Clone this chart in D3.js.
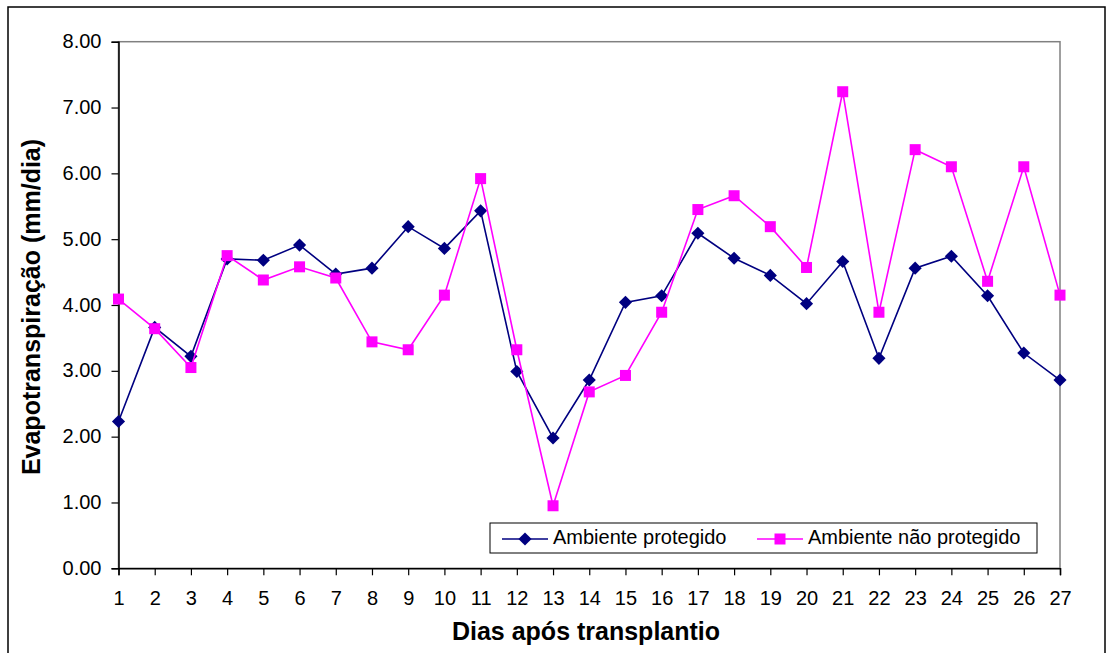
<!DOCTYPE html>
<html lang="pt">
  <head>
    <meta charset="utf-8">
    <title>Evapotranspiração</title>
    <script type="text/javascript" src="https://d3js.org/d3.v7.min.js"></script>
    <style>
    body { margin:0; background-color:#ffffff; }
    text { font-family:"Liberation Sans", Arial, sans-serif; fill:#000000; }
    </style>
  </head>
  <body>
    <div id="chart"></div>
    <script type="text/javascript">
// dados
const dias = d3.range(1, 28);
const protegido = [2.23, 3.66, 3.22, 4.70, 4.68, 4.91, 4.47, 4.56, 5.19, 4.86, 5.43, 2.99, 1.98, 2.86,
  4.04, 4.14, 5.09, 4.71, 4.45, 4.02, 4.66, 3.19, 4.56, 4.74, 4.14, 3.27, 2.86];
const naoProtegido = [4.09, 3.64, 3.05, 4.75, 4.38, 4.58, 4.41, 3.44, 3.32, 4.15, 5.92, 3.32, 0.95, 2.68,
  2.93, 3.89, 5.45, 5.66, 5.19, 4.57, 7.24, 3.89, 6.36, 6.10, 4.36, 6.10, 4.15];
const yTicks = [0, 1, 2, 3, 4, 5, 6, 7, 8];
const nomes = ["Ambiente protegido", "Ambiente não protegido"];

const width = 1108, height = 653;
const margin = {'top': 41.7, 'bottom': 84.7, 'left': 118.5, 'right': 48};
const svg = d3.select("#chart").append("svg").attr("width", width).attr("height", height);

const xScale = d3.scaleLinear().domain([1, 27]).range([margin.left, width - margin.right]);
const yScale = d3.scaleLinear().domain([0, 8]).range([height - margin.bottom, margin.top]);

// moldura externa
svg.append("rect").attr("x", 8).attr("y", 7).attr("width", 1097).attr("height", 660)
  .attr("fill", "none").attr("stroke", "#000000").attr("stroke-width", 1.5);

// área do gráfico (bordas cinza)
svg.append("rect")
  .attr("x", xScale(1)).attr("y", yScale(8))
  .attr("width", xScale(27) - xScale(1)).attr("height", yScale(0) - yScale(8))
  .attr("fill", "#ffffff").attr("stroke", "#808080").attr("stroke-width", 1.5);

// eixos
const yAxis = svg.append("g").attr("transform", `translate(${margin.left},0)`)
  .call(d3.axisLeft(yScale).tickValues(yTicks).tickFormat(d3.format(".2f")).tickSize(7).tickPadding(10));
const xAxis = svg.append("g").attr("transform", `translate(0,${yScale(0)})`)
  .call(d3.axisBottom(xScale).tickValues(dias).tickFormat(d3.format("d")).tickSize(7).tickPadding(16));
[yAxis, xAxis].forEach(a => {
  a.attr("font-size", 20).attr("font-family", "Liberation Sans, Arial, sans-serif");
  a.select(".domain").attr("stroke", "#000000").attr("stroke-width", 1.5);
  a.selectAll(".tick line").attr("stroke", "#000000").attr("stroke-width", 1.2);
  a.selectAll("text").attr("fill", "#000000");
});
yAxis.selectAll("text").attr("dy", "0.3em");

// títulos
svg.append("text").attr("x", 586).attr("y", 640)
  .attr("text-anchor", "middle").attr("font-size", "25px").attr("font-weight", "bold")
  .text("Dias após transplantio");
svg.append("text")
  .attr("transform", `translate(40,307) rotate(-90)`)
  .attr("text-anchor", "middle").attr("font-size", "25px").attr("font-weight", "bold")
  .text("Evapotranspiração (mm/dia)");

const line = d3.line().x((d, i) => xScale(dias[i])).y(d => yScale(d));
const diamond = d3.symbol().type(d3.symbolDiamond2).size(110);

// série 1 - ambiente protegido
svg.append("path").datum(protegido).attr("fill", "none").attr("stroke", "#000080")
  .attr("stroke-width", 1.6).attr("d", line);
svg.selectAll(".p1").data(protegido).enter().append("path").attr("class", "p1")
  .attr("transform", (d, i) => `translate(${xScale(dias[i])},${yScale(d)})`)
  .attr("d", diamond).attr("fill", "#000080");

// série 2 - ambiente não protegido
svg.append("path").datum(naoProtegido).attr("fill", "none").attr("stroke", "#FF00FF")
  .attr("stroke-width", 1.6).attr("d", line);
svg.selectAll(".p2").data(naoProtegido).enter().append("rect").attr("class", "p2")
  .attr("x", (d, i) => xScale(dias[i]) - 5.5).attr("y", d => yScale(d) - 5.5)
  .attr("width", 11).attr("height", 11).attr("fill", "#FF00FF");

// legenda
const legend = svg.append("g");
legend.append("rect").attr("x", 490).attr("y", 523).attr("width", 547).attr("height", 30)
  .attr("fill", "#ffffff").attr("stroke", "#000000").attr("stroke-width", 1);
const itens = [
  {x: 502, cor: "#000080", tipo: "diamond"},
  {x: 757, cor: "#FF00FF", tipo: "square"}
];
itens.forEach((it, k) => {
  const g = legend.append("g").attr("transform", `translate(${it.x},539)`);
  g.append("line").attr("x1", 0).attr("x2", 46).attr("y1", 0).attr("y2", 0)
    .attr("stroke", it.cor).attr("stroke-width", 1.6);
  if (it.tipo == "diamond") {
    g.append("path").attr("transform", "translate(23,0)").attr("d", diamond).attr("fill", it.cor);
  } else {
    g.append("rect").attr("x", 17.5).attr("y", -5.5).attr("width", 11).attr("height", 11).attr("fill", it.cor);
  }
  g.append("text").attr("x", 51).attr("y", 4.5).attr("font-size", "20px").text(nomes[k]);
});
    </script>
  </body>
</html>
